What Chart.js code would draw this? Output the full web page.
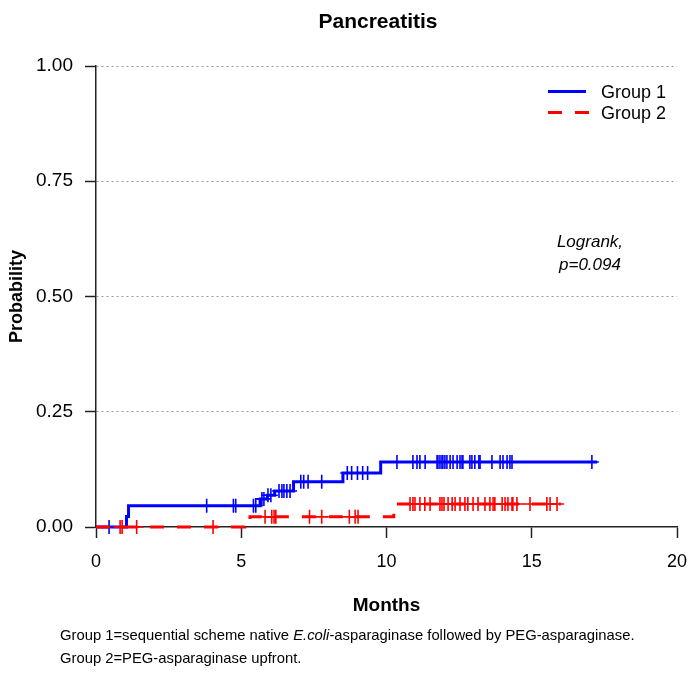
<!DOCTYPE html>
<html><head><meta charset="utf-8">
<script src="https://cdn.jsdelivr.net/npm/chart.js@4/dist/chart.umd.min.js"></script>
<style>
html,body{margin:0;padding:0;background:#fff;}
#wrap{position:relative;width:687px;height:673px;font-family:"Liberation Sans",Arial,sans-serif;color:#000;overflow:hidden;}
#c{position:absolute;left:0;top:0;}
.t{position:absolute;white-space:nowrap;line-height:1;}
.ln{position:absolute;height:0;}
</style></head><body>
<div id="wrap">
<canvas id="c" width="687" height="673"></canvas>
<div class="t" style="left:278px;width:200px;top:10px;text-align:center;font-weight:bold;font-size:21px;">Pancreatitis</div>
<div class="ln" style="left:548px;top:90px;width:38px;border-top:3px solid #0000ff;"></div>
<div class="t" style="left:601px;top:83px;font-size:18px;">Group 1</div>
<div class="ln" style="left:548px;top:111px;width:14px;border-top:3px solid #ff0000;"></div>
<div class="ln" style="left:575px;top:111px;width:14px;border-top:3px solid #ff0000;"></div>
<div class="t" style="left:601px;top:104px;font-size:18px;">Group 2</div>
<div class="t" style="left:490px;width:200px;top:233px;text-align:center;font-style:italic;font-size:17px;">Logrank,</div>
<div class="t" style="left:490px;width:200px;top:256px;text-align:center;font-style:italic;font-size:17px;">p=0.094</div>
<div class="t" style="left:60px;top:628px;font-size:14.8px;">Group 1=sequential scheme native <i>E.coli</i>-asparaginase followed by PEG-asparaginase.</div>
<div class="t" style="left:60px;top:651px;font-size:14.8px;">Group 2=PEG-asparaginase upfront.</div>
</div>
<script>
// ---- data ----
const xTickValues = [0, 5, 10, 15, 20];
const yTickValues = [0, 0.25, 0.5, 0.75, 1];
const yTickLabels = ['0.00', '0.25', '0.50', '0.75', '1.00'];

// Group 1: step times (months) and cumulative probability after each step
const g1Times = [0, 1.05, 1.12, 5.65, 5.9, 6.15, 6.8, 8.5, 9.8, 17.25];
const g1Prob  = [0, 0.023, 0.046, 0.061, 0.069, 0.078, 0.098, 0.117, 0.141, 0.141];
// Group 1 censored times
const g1Censored = [0.45, 3.81, 4.73, 4.81, 5.42, 5.5, 5.71, 5.78, 5.92, 6.02, 6.3, 6.4, 6.47, 6.57, 6.68,
  7.05, 7.15, 7.3, 7.77, 8.65, 8.8, 9.0, 9.18, 9.35,
  10.36, 10.91, 11.05, 11.15, 11.33, 11.74, 11.77, 11.84, 11.91, 11.94, 12.01, 12.08, 12.19, 12.29,
  12.43, 12.53, 12.6, 12.63, 12.87, 12.94, 13.04, 13.18, 13.22, 13.63, 13.91, 14.01, 14.15, 14.25, 14.32, 17.07];

// Group 2
const g2Times = [0, 5.12, 5.3, 10.25, 10.35, 16.0];
const g2Prob  = [0, 0.011, 0.022, 0.036, 0.05, 0.05];
const g2Censored = [0.83, 0.9, 1.4, 4.03, 5.82, 6.05, 6.13, 6.19, 7.35, 7.77, 8.72, 8.92, 9.02,
  10.81, 10.91, 10.98, 11.15, 11.32, 11.5, 11.84, 11.91, 11.98, 12.12, 12.26, 12.36, 12.53, 12.7, 12.8,
  12.98, 13.15, 13.39, 13.56, 13.67, 13.73, 13.98, 14.08, 14.18, 14.32, 14.35, 14.49, 14.94, 15.52, 15.63, 15.87];

// ---- helpers ----
function stepPoints(times, probs){ return times.map((t,i)=>({x:t, y:probs[i]})); }
function levelAt(times, probs, t){ let v = probs[0]; for (let i=0;i<times.length;i++){ if (times[i] <= t) v = probs[i]; } return v; }
function censorPoints(cens, times, probs){ return cens.map(t=>({x:t, y:levelAt(times, probs, t)})); }

const FONT = '"Liberation Sans", Arial, sans-serif';
Chart.defaults.font.family = FONT;
Chart.defaults.color = '#000';

new Chart(document.getElementById('c'), {
  type: 'scatter',
  data: {
    datasets: [
      { label: 'Group 2', data: stepPoints(g2Times, g2Prob), showLine: true, stepped: 'before',
        borderColor: '#ff0000', borderWidth: 3, borderDash: [14, 13], pointRadius: 0, fill: false, clip: false },
      { label: 'Group 2 censored', data: censorPoints(g2Censored, g2Times, g2Prob), showLine: false,
        pointStyle: 'cross', pointRadius: 7, borderColor: '#ff0000', borderWidth: 1.6, clip: false },
      { label: 'Group 1', data: stepPoints(g1Times, g1Prob), showLine: true, stepped: 'before',
        borderColor: '#0000ff', borderWidth: 3, pointRadius: 0, fill: false, clip: false },
      { label: 'Group 1 censored', data: censorPoints(g1Censored, g1Times, g1Prob), showLine: false,
        pointStyle: 'cross', pointRadius: 7, borderColor: '#0000ff', borderWidth: 1.6, clip: false }
    ]
  },
  options: {
    responsive: false,
    animation: false,
    layout: { padding: { top: 66, right: 10, left: 0, bottom: 0 } },
    plugins: { legend: { display: false }, tooltip: { enabled: false }, title: { display: false } },
    scales: {
      x: {
        type: 'linear', min: 0, max: 20,
        afterFit: s => { s.height = 146; s.paddingRight = 0; s.paddingLeft = 0; },
        afterBuildTicks: s => { s.ticks = xTickValues.map(v => ({ value: v })); },
        ticks: { font: { size: 18 }, padding: 13, color: '#000', maxRotation: 0, callback: v => String(v) },
        grid: { drawOnChartArea: false, tickLength: 11, tickColor: '#222', tickWidth: 1.5 },
        border: { color: '#222', width: 1.5 },
        title: { display: true, text: 'Months', font: { size: 19, weight: 'bold' }, color: '#000', padding: { top: 0, bottom: 56 } }
      },
      y: {
        type: 'linear', min: 0, max: 1,
        afterFit: s => { s.width = 96; s.paddingTop = 0; s.paddingBottom = 0; },
        afterBuildTicks: s => { s.ticks = yTickValues.map(v => ({ value: v })); },
        ticks: { font: { size: 19 }, padding: 12, color: '#000',
          callback: v => { const i = yTickValues.indexOf(v); return i >= 0 ? yTickLabels[i] : ''; } },
        grid: { color: c => (c.tick && c.tick.value === 0) ? 'rgba(0,0,0,0)' : '#9a9a9a', lineWidth: 1,
          tickLength: 11, tickColor: '#222', tickWidth: 1.5 },
        border: { color: '#222', width: 1.5, dash: [2, 3] },
        title: { display: true, text: 'Probability', font: { size: 18, weight: 'bold' }, color: '#000', padding: { top: 6, bottom: 0 } }
      }
    }
  }
});
</script>
</body></html>
